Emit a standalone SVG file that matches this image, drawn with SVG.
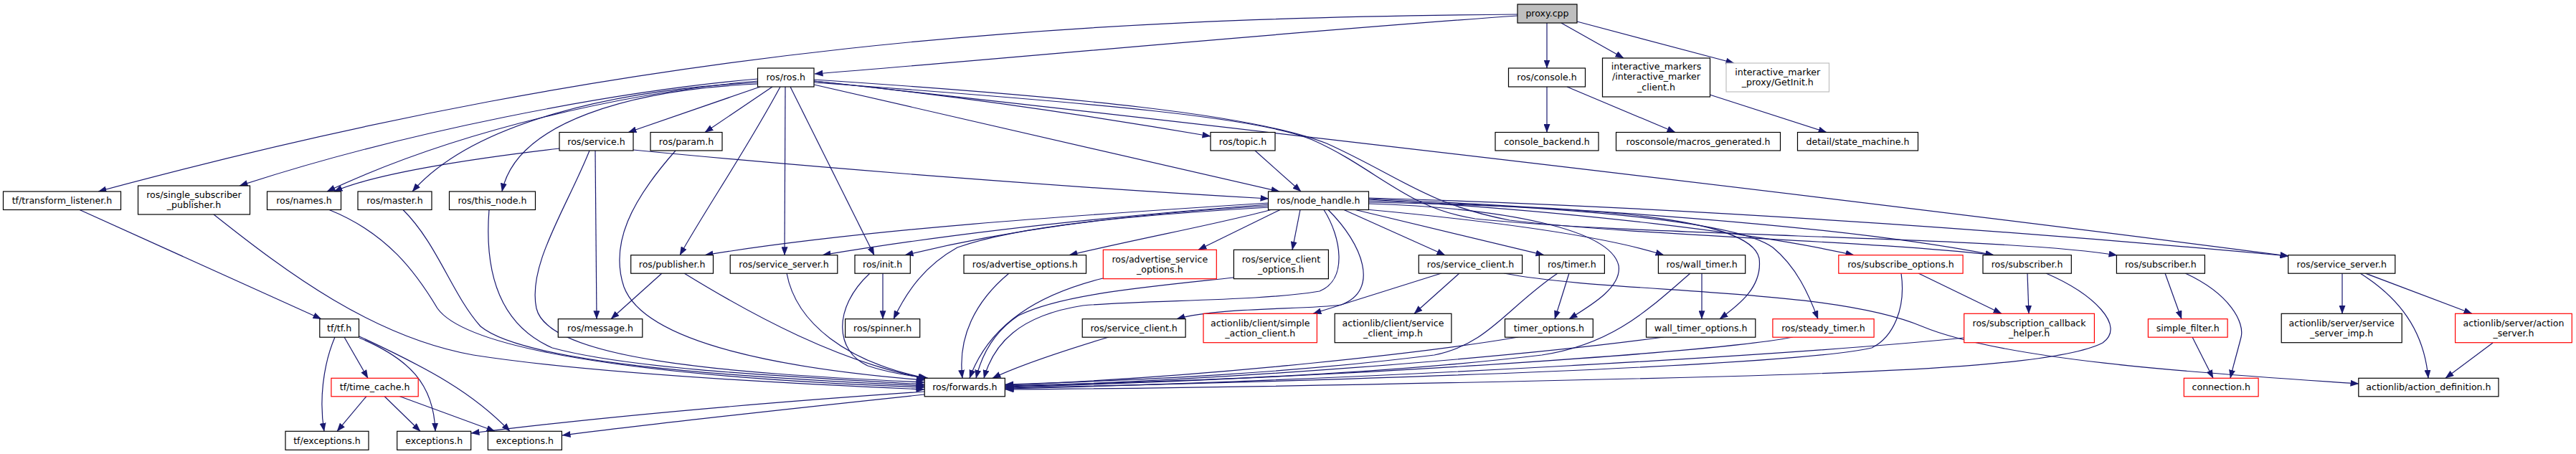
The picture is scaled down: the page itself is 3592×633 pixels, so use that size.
<svg xmlns="http://www.w3.org/2000/svg" width="3592" height="633" viewBox="0 0 3592 633">
<style>
.e{fill:none;stroke:#191970;stroke-width:1.2;marker-end:url(#a)}
rect{fill:#fff;stroke:#000;stroke-width:1.2}
rect.r{stroke:#ff0000}
rect.g{stroke:#bfbfbf}
rect.root{fill:#bfbfbf}
text{font-family:"DejaVu Sans",sans-serif;font-size:12.6px;text-anchor:middle;fill:#000}
</style>
<defs>
<marker id="a" viewBox="0 0 12 9" refX="11.5" refY="4.5" markerWidth="12" markerHeight="9" markerUnits="userSpaceOnUse" orient="auto"><path d="M0,0 L12,4.5 L0,9 z" fill="#191970"/></marker>
</defs>
<rect x="0" y="0" width="3592" height="633" style="fill:#fff;stroke:none"/>
<g id="connectors">
<path class="e" d="M2116,22 C1800,44 1400,82 1136,103"/>
<path class="e" d="M2116,20 C1500,25 900,60 137,267"/>
<path class="e" d="M2157,32 L2157,95"/>
<path class="e" d="M2177,32 L2264,81"/>
<path class="e" d="M2199,30 L2418,88"/>
<path class="e" d="M2157,121 L2157,184.5"/>
<path class="e" d="M2185,121 L2336,184.5"/>
<path class="e" d="M2384,132 L2547,184.5"/>
<path class="e" d="M1057,110 C850,128 560,185 334,259"/>
<path class="e" d="M1057,113 C880,128 640,180 456,267"/>
<path class="e" d="M1057,115 C860,125 660,170 575,267"/>
<path class="e" d="M1057,117 C880,125 720,170 700,267"/>
<path class="e" d="M1060,121 L876,184.5"/>
<path class="e" d="M1077,121 L983,184.5"/>
<path class="e" d="M1088,121 C1040,210 985,290 948,355.7"/>
<path class="e" d="M1095,121 L1094,355.7"/>
<path class="e" d="M1102,121 L1219,355.7"/>
<path class="e" d="M1135,113 C1350,135 1560,168 1688,190"/>
<path class="e" d="M1135,118 L1784,267"/>
<path class="e" d="M1750,210 L1814,267"/>
<path class="e" d="M1135,113 C1700,175 2600,280 3191,357"/>
<path class="e" d="M1135,111 C1500,135 1750,160 1850,200 C1950,245 1990,285 2105,307 C2300,330 2600,335 2780,355.7"/>
<path class="e" d="M1135,115 C1550,145 1760,165 1830,195 C1920,235 1960,290 2057,305 C2300,330 2800,330 2952,356"/>
<path class="e" d="M780,207 C650,222 520,243 466,267"/>
<path class="e" d="M883,209 C1150,235 1500,262 1769,277"/>
<path class="e" d="M822,210 C790,290 735,370 748,430 C765,500 1000,520 1289,533"/>
<path class="e" d="M830,210 L832,444.7"/>
<path class="e" d="M942,210 C880,280 850,340 870,400 C900,480 1100,515 1289,530"/>
<path class="e" d="M682,292.5 C676,370 690,450 770,485 C880,515 1100,525 1289,536"/>
<path class="e" d="M562,292.5 C610,340 630,410 670,455 C730,505 1000,525 1289,538"/>
<path class="e" d="M459,292.5 C540,325 580,380 610,430 C660,500 1000,530 1289,540"/>
<path class="e" d="M298,299 C400,380 520,470 660,495 C820,520 1100,535 1289,543"/>
<path class="e" d="M954,381 C1050,440 1170,505 1292,528"/>
<path class="e" d="M1097,381 C1110,450 1180,505 1292,527.3"/>
<path class="e" d="M1213,381 C1160,430 1165,490 1210,510 C1240,520 1270,524 1294,527.3"/>
<path class="e" d="M1231,381 L1231,444.7"/>
<path class="e" d="M923,381 L852,444.7"/>
<path class="e" d="M1769,283 C1500,300 1200,320 983,355.7"/>
<path class="e" d="M1769,285 C1500,305 1300,330 1147,355.7"/>
<path class="e" d="M1769,287 C1550,300 1400,322 1262,355.7"/>
<path class="e" d="M1770,289 C1580,300 1420,315 1335,345 C1290,370 1265,405 1246,444.7"/>
<path class="e" d="M1772,292.5 C1700,312 1600,330 1491,355.7"/>
<path class="e" d="M1785,292.5 L1671,348.3"/>
<path class="e" d="M1813,292.5 L1802,348.3"/>
<path class="e" d="M1846,292.5 C1870,330 1880,390 1840,406 C1760,420 1600,418 1510,426 C1420,440 1385,480 1372,527.3"/>
<path class="e" d="M1852,292.5 C1900,340 1925,405 1870,425 C1820,432 1700,428 1641,444.7"/>
<path class="e" d="M2010,381 L1831,437.3"/>
<path class="e" d="M2035,381 L1972,437.3"/>
<path class="e" d="M2097,381 C2250,410 2550,400 2680,455 C2800,505 3100,522 3289,535"/>
<path class="e" d="M1874,292.5 L2015,355.7"/>
<path class="e" d="M1890,292.5 L2153,355.7"/>
<path class="e" d="M1908,284 C2100,290 2245,320 2257,370 C2262,400 2220,425 2188,444.7"/>
<path class="e" d="M1905,292 C2100,310 2240,330 2320,355.7"/>
<path class="e" d="M1908,282 C2200,288 2440,300 2453,360 C2458,400 2425,425 2398,444.7"/>
<path class="e" d="M1908,280 C2200,288 2425,310 2472,345 C2505,372 2522,410 2535,444.7"/>
<path class="e" d="M1908,278 C2200,295 2450,325 2585,355.7"/>
<path class="e" d="M1908,277 C2300,295 2600,320 2780,355.7"/>
<path class="e" d="M1908,276 C2400,290 2900,330 3191,357"/>
<path class="e" d="M2188,381 L2168,444.7"/>
<path class="e" d="M2172,381 C2100,430 2075,480 2000,495 C1800,520 1600,530 1402,536"/>
<path class="e" d="M2117,470 C2000,490 1700,525 1402,537"/>
<path class="e" d="M2373,381 L2373,444.7"/>
<path class="e" d="M2357,381 C2300,430 2250,480 2150,495 C1900,525 1600,533 1402,538"/>
<path class="e" d="M2320,470 C2100,500 1700,530 1402,539"/>
<path class="e" d="M2500,470 C2400,490 1900,525 1402,540"/>
<path class="e" d="M2675,381 L2791,437.3"/>
<path class="e" d="M2651,381 C2658,430 2640,470 2610,485 C2500,510 1900,530 1402,541"/>
<path class="e" d="M2739,471 C2500,495 1900,530 1402,542"/>
<path class="e" d="M2827,381 L2829,437.3"/>
<path class="e" d="M2853,381 C2920,410 2965,455 2932,478 C2880,505 2700,517 2400,525 C2000,535 1700,541 1402,543"/>
<path class="e" d="M3019,381 L3042,444.7"/>
<path class="e" d="M3047,381 C3110,410 3130,450 3125,470 C3120,490 3114,510 3110,527.3"/>
<path class="e" d="M3057,470 L3086,527.3"/>
<path class="e" d="M3266,381 L3266,437.3"/>
<path class="e" d="M3291,381 C3345,415 3380,460 3386,527.3"/>
<path class="e" d="M3298,381 L3447,437.3"/>
<path class="e" d="M3476,478 L3410,527.3"/>
<path class="e" d="M1289,546 C1000,566 800,586 657,604"/>
<path class="e" d="M1289,550 C1100,570 900,592 784,607"/>
<path class="e" d="M1407,381 C1360,420 1335,470 1342,527.3"/>
<path class="e" d="M1538,388 C1450,410 1380,450 1352,527.3"/>
<path class="e" d="M1720,387 C1600,400 1480,410 1420,440 C1390,460 1370,490 1361,527.3"/>
<path class="e" d="M1546,470 C1480,490 1420,510 1384,527.3"/>
<path class="e" d="M111,292.5 L448,444.7"/>
<path class="e" d="M467,470 C450,510 445,560 452,601.3"/>
<path class="e" d="M480,470 L513,527.3"/>
<path class="e" d="M501,469 C600,515 660,548 711,601.3"/>
<path class="e" d="M501,471 C570,500 605,535 607,601.3"/>
<path class="e" d="M511,552.5 L470,601.3"/>
<path class="e" d="M536,552.5 L586,601.3"/>
<path class="e" d="M557,552.5 L690,601.3"/>
</g>
<g id="proxy"><rect class="root" x="2116" y="6" width="83" height="26"/><text x="2157.5" y="23.4">proxy.cpp</text></g>
<g id="ros_ros"><rect x="1056.5" y="95" width="78.5" height="26"/><text x="1095.75" y="112.4">ros/ros.h</text></g>
<g id="ros_console"><rect x="2103.5" y="95" width="107" height="26"/><text x="2157" y="112.4">ros/console.h</text></g>
<g id="imc"><rect x="2234.5" y="81" width="150" height="54"/><text x="2309.5" y="96.9">interactive_markers</text><text x="2309.5" y="111.4">/interactive_marker</text><text x="2309.5" y="125.9">_client.h</text></g>
<g id="getinit"><rect class="g" x="2407" y="88" width="143.5" height="40"/><text x="2478.75" y="105">interactive_marker</text><text x="2478.75" y="119">_proxy/GetInit.h</text></g>
<g id="ros_service"><rect x="780" y="184.5" width="103" height="25.5"/><text x="831.5" y="201.6">ros/service.h</text></g>
<g id="ros_param"><rect x="907" y="184.5" width="100" height="25.5"/><text x="957" y="201.6">ros/param.h</text></g>
<g id="ros_topic"><rect x="1688" y="184.5" width="90" height="25.5"/><text x="1733" y="201.6">ros/topic.h</text></g>
<g id="console_backend"><rect x="2085" y="184.5" width="144" height="25.5"/><text x="2157" y="201.6">console_backend.h</text></g>
<g id="macros"><rect x="2253.5" y="184.5" width="229" height="25.5"/><text x="2368" y="201.6">rosconsole/macros_generated.h</text></g>
<g id="state_machine"><rect x="2506.5" y="184.5" width="168" height="25.5"/><text x="2590.5" y="201.6">detail/state_machine.h</text></g>
<g id="tf_listener"><rect x="4.5" y="267" width="164" height="25.5"/><text x="86.5" y="284.1">tf/transform_listener.h</text></g>
<g id="ssp"><rect x="192.5" y="259" width="156" height="40"/><text x="270.5" y="276">ros/single_subscriber</text><text x="270.5" y="290">_publisher.h</text></g>
<g id="ros_names"><rect x="372.5" y="267" width="103" height="25.5"/><text x="424" y="284.1">ros/names.h</text></g>
<g id="ros_master"><rect x="499" y="267" width="103" height="25.5"/><text x="550.5" y="284.1">ros/master.h</text></g>
<g id="ros_this_node"><rect x="626.5" y="267" width="120" height="25.5"/><text x="686.5" y="284.1">ros/this_node.h</text></g>
<g id="ros_node_handle"><rect x="1768.5" y="267" width="140" height="25.5"/><text x="1838.5" y="284.1">ros/node_handle.h</text></g>
<g id="ros_publisher"><rect x="879.7" y="355.7" width="114.8" height="25.5"/><text x="937.1" y="372.8">ros/publisher.h</text></g>
<g id="ros_service_server1"><rect x="1018.2" y="355.7" width="149.6" height="25.5"/><text x="1093" y="372.8">ros/service_server.h</text></g>
<g id="ros_init"><rect x="1192" y="355.7" width="77.3" height="25.5"/><text x="1230.65" y="372.8">ros/init.h</text></g>
<g id="ros_advertise_options"><rect x="1344" y="355.7" width="170.5" height="25.5"/><text x="1429.25" y="372.8">ros/advertise_options.h</text></g>
<g id="ros_advertise_service_options"><rect class="r" x="1538.3" y="348.3" width="158" height="40.4"/><text x="1617.3" y="365.5">ros/advertise_service</text><text x="1617.3" y="379.5">_options.h</text></g>
<g id="ros_service_client_options"><rect x="1720.4" y="348.3" width="132" height="40.4"/><text x="1786.4" y="365.5">ros/service_client</text><text x="1786.4" y="379.5">_options.h</text></g>
<g id="ros_service_client1"><rect x="1978.3" y="355.7" width="144.3" height="25.5"/><text x="2050.45" y="372.8">ros/service_client.h</text></g>
<g id="ros_timer"><rect x="2146.3" y="355.7" width="91.1" height="25.5"/><text x="2191.85" y="372.8">ros/timer.h</text></g>
<g id="ros_wall_timer"><rect x="2312.4" y="355.7" width="121.3" height="25.5"/><text x="2373.05" y="372.8">ros/wall_timer.h</text></g>
<g id="ros_subscribe_options"><rect class="r" x="2563.8" y="355.7" width="173.3" height="25.5"/><text x="2650.45" y="372.8">ros/subscribe_options.h</text></g>
<g id="ros_subscriber1"><rect x="2765" y="355.7" width="123.3" height="25.5"/><text x="2826.65" y="372.8">ros/subscriber.h</text></g>
<g id="ros_subscriber2"><rect x="2951.4" y="355.7" width="123" height="25.5"/><text x="3012.9" y="372.8">ros/subscriber.h</text></g>
<g id="ros_service_server2"><rect x="3190.7" y="355.7" width="149.1" height="25.5"/><text x="3265.25" y="372.8">ros/service_server.h</text></g>
<g id="tf_tf"><rect x="445.8" y="444.7" width="54.7" height="25.5"/><text x="473.15" y="461.8">tf/tf.h</text></g>
<g id="ros_message"><rect x="778.3" y="444.7" width="117.5" height="25.5"/><text x="837.05" y="461.8">ros/message.h</text></g>
<g id="ros_spinner"><rect x="1178.6" y="444.7" width="104.1" height="25.5"/><text x="1230.65" y="461.8">ros/spinner.h</text></g>
<g id="ros_service_client2"><rect x="1509.2" y="444.7" width="143.9" height="25.5"/><text x="1581.15" y="461.8">ros/service_client.h</text></g>
<g id="simple_action_client"><rect class="r" x="1678" y="437.3" width="158.4" height="40.4"/><text x="1757.2" y="454.5">actionlib/client/simple</text><text x="1757.2" y="468.5">_action_client.h</text></g>
<g id="service_client_imp"><rect x="1861.2" y="437.3" width="162.7" height="40.4"/><text x="1942.55" y="454.5">actionlib/client/service</text><text x="1942.55" y="468.5">_client_imp.h</text></g>
<g id="timer_options"><rect x="2098.5" y="444.7" width="122.8" height="25.5"/><text x="2159.9" y="461.8">timer_options.h</text></g>
<g id="wall_timer_options"><rect x="2295.5" y="444.7" width="152.3" height="25.5"/><text x="2371.65" y="461.8">wall_timer_options.h</text></g>
<g id="ros_steady_timer"><rect class="r" x="2471.9" y="444.7" width="141.2" height="25.5"/><text x="2542.5" y="461.8">ros/steady_timer.h</text></g>
<g id="sub_cb_helper"><rect class="r" x="2738.7" y="437.3" width="181.7" height="40.4"/><text x="2829.55" y="454.5">ros/subscription_callback</text><text x="2829.55" y="468.5">_helper.h</text></g>
<g id="simple_filter"><rect class="r" x="2995.4" y="444.7" width="110.7" height="25.5"/><text x="3050.75" y="461.8">simple_filter.h</text></g>
<g id="service_server_imp"><rect x="3181.2" y="437.3" width="168" height="40.4"/><text x="3265.2" y="454.5">actionlib/server/service</text><text x="3265.2" y="468.5">_server_imp.h</text></g>
<g id="action_server"><rect class="r" x="3423.6" y="437.3" width="162.7" height="40.4"/><text x="3504.95" y="454.5">actionlib/server/action</text><text x="3504.95" y="468.5">_server.h</text></g>
<g id="tf_time_cache"><rect class="r" x="461.9" y="527.3" width="121.3" height="25.5"/><text x="522.55" y="544.4">tf/time_cache.h</text></g>
<g id="ros_forwards"><rect x="1289.2" y="527.3" width="112.1" height="25.5"/><text x="1345.25" y="544.4">ros/forwards.h</text></g>
<g id="connection"><rect class="r" x="3045.3" y="527.3" width="103.8" height="25.5"/><text x="3097.2" y="544.4">connection.h</text></g>
<g id="action_definition"><rect x="3288.8" y="527.3" width="195.2" height="25.5"/><text x="3386.4" y="544.4">actionlib/action_definition.h</text></g>
<g id="tf_exceptions"><rect x="398" y="601.3" width="116" height="26"/><text x="456" y="618.7">tf/exceptions.h</text></g>
<g id="exceptions1"><rect x="553.7" y="601.3" width="103" height="26"/><text x="605.2" y="618.7">exceptions.h</text></g>
<g id="exceptions2"><rect x="680.4" y="601.3" width="103" height="26"/><text x="731.9" y="618.7">exceptions.h</text></g>
</svg>
